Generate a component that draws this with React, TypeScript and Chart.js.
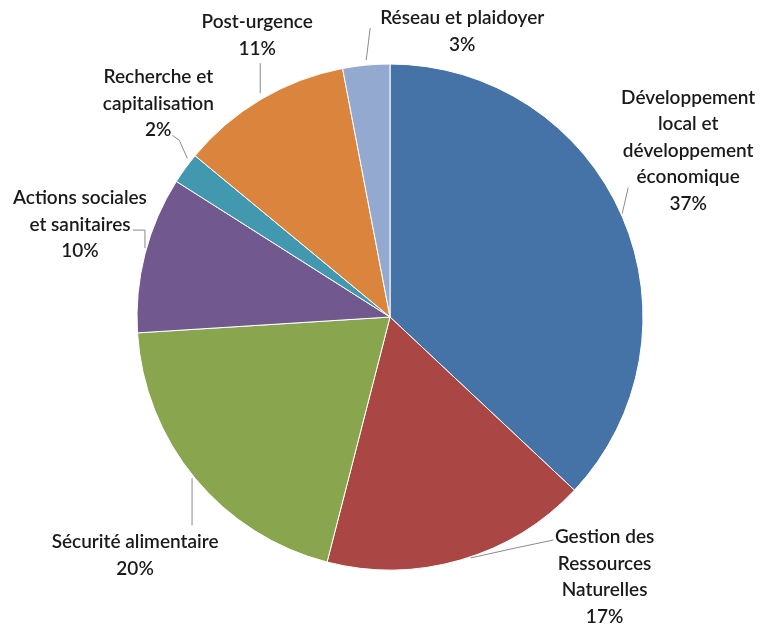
import React, { useEffect, useRef } from "react";
import { Chart, registerables } from "chart.js";

Chart.register(...registerables);

const categories = [
  ["Développement", "local et", "développement", "économique"],
  ["Gestion des", "Ressources", "Naturelles"],
  ["Sécurité alimentaire"],
  ["Actions sociales", "et sanitaires"],
  ["Recherche et", "capitalisation"],
  ["Post-urgence"],
  ["Réseau et plaidoyer"],
];
const values = [37, 17, 20, 10, 2, 11, 3];
const colors = ["#4572A7", "#AA4643", "#89A54E", "#71588F", "#4198AF", "#DB843D", "#93A9CF"];

// label placement relative to the slice's mid-angle point on the rim
const labelOffsets = [
  { dx: 66, dy: -119, leader: [[0, -3], [6, -29]] },
  { dx: 144, dy: -23, leader: [[10, -2], [55, -12], [93, -20]] },
  { dx: -60, dy: 64, leader: [[-3, 0], [-3, 47]] },
  { dx: -65, dy: -56, leader: [[0, -6], [0, -24], [-12, -24]] },
  { dx: -27, dy: -91, leader: [[2, -10], [-6, -28], [-13, -33]] },
  { dx: -4, dy: -77, leader: [[-1, -6], [-1, -36]] },
  { dx: 96, dy: -47, leader: [[0, -5], [4, -37]] },
];

const FONT = "600 19px Lato, 'Liberation Sans', sans-serif";
const LINE_H = 26.5;

const labelPlugin = {
  id: "outerLabels",
  afterDatasetsDraw(chart: any) {
    const ctx = chart.ctx;
    const meta = chart.getDatasetMeta(0);
    ctx.save();
    meta.data.forEach((arc: any, i: number) => {
      const { x, y, startAngle, endAngle, outerRadius } = arc.getProps(
        ["x", "y", "startAngle", "endAngle", "outerRadius"],
        true
      );
      const mid = (startAngle + endAngle) / 2;
      const ex = x + Math.cos(mid) * outerRadius;
      const ey = y + Math.sin(mid) * outerRadius;
      const off = labelOffsets[i];
      ctx.strokeStyle = "#8a8a8a";
      ctx.lineWidth = 1;
      ctx.beginPath();
      off.leader.forEach((p: number[], k: number) => {
        if (k === 0) ctx.moveTo(ex + p[0], ey + p[1]);
        else ctx.lineTo(ex + p[0], ey + p[1]);
      });
      ctx.stroke();
      const lines = [...categories[i], values[i] + "%"];
      ctx.fillStyle = "#1a1a1a";
      ctx.font = FONT;
      ctx.textAlign = "center";
      ctx.textBaseline = "middle";
      lines.forEach((t, k) => {
        ctx.fillText(t, ex + off.dx, ey + off.dy + k * LINE_H);
      });
    });
    ctx.restore();
  },
};

export default function App() {
  const ref = useRef<HTMLCanvasElement>(null);
  useEffect(() => {
    const chart = new Chart(ref.current!, {
      type: "pie",
      data: {
        labels: categories.map((c) => c.join(" ")),
        datasets: [
          {
            data: values,
            backgroundColor: colors,
            borderColor: "#ffffff",
            borderWidth: 1,
            radius: 253,
          } as any,
        ],
      },
      options: {
        animation: false,
        responsive: false,
        layout: { padding: { left: 137, right: 118, top: 64, bottom: 56 } },
        plugins: { legend: { display: false }, tooltip: { enabled: false } },
      },
      plugins: [labelPlugin],
    });
    return () => chart.destroy();
  }, []);
  return (
    <div style={{ position: "fixed", left: 0, top: 0, width: 761, height: 626, background: "#fff" }}>
      <canvas ref={ref} width={761} height={626} />
    </div>
  );
}
